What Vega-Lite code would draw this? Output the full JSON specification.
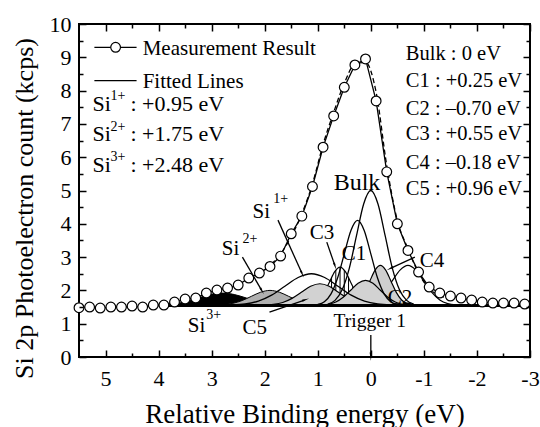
{
"$schema": "https://vega.github.io/schema/vega-lite/v6.json",
"width": 451, "height": 333,
"autosize": {"type": "none"},
"padding": {"left": 79, "top": 24, "right": 10, "bottom": 70},
"background": "white",
"config": {"view": {"stroke": "black", "strokeWidth": 2}, "text": {"font": "Liberation Serif", "color": "black"}},
"resolve": {"axis": {"x": "independent", "y": "independent"}},
"datasets": {
"meas": [
{"x":5.5,"y":1.48},{"x":5.3,"y":1.5},{"x":5.1,"y":1.47},{"x":4.9,"y":1.5},{"x":4.7,"y":1.5},{"x":4.5,"y":1.53},{"x":4.3,"y":1.5},{"x":4.1,"y":1.56},{"x":3.9,"y":1.56},{"x":3.7,"y":1.65},{"x":3.5,"y":1.74},{"x":3.3,"y":1.77},{"x":3.1,"y":1.92},{"x":2.9,"y":2.01},{"x":2.7,"y":2.07},{"x":2.5,"y":2.16},{"x":2.3,"y":2.37},{"x":2.1,"y":2.52},{"x":1.9,"y":2.72},{"x":1.7,"y":3.03},{"x":1.5,"y":3.7},{"x":1.3,"y":4.23},{"x":1.1,"y":5.12},{"x":0.9,"y":6.3},{"x":0.7,"y":7.24},{"x":0.5,"y":8.1},{"x":0.3,"y":8.77},{"x":0.1,"y":8.95},{"x":-0.1,"y":7.69},{"x":-0.3,"y":5.56},{"x":-0.5,"y":4.0},{"x":-0.7,"y":3.2},{"x":-0.9,"y":2.55},{"x":-1.1,"y":2.1},{"x":-1.3,"y":1.92},{"x":-1.5,"y":1.83},{"x":-1.7,"y":1.77},{"x":-1.9,"y":1.71},{"x":-2.1,"y":1.65},{"x":-2.3,"y":1.62},{"x":-2.5,"y":1.62},{"x":-2.7,"y":1.62},{"x":-2.9,"y":1.59}
],
"fit": [
{"x":2.1,"y":2.47},{"x":1.9,"y":2.75},{"x":1.7,"y":3.1},{"x":1.5,"y":3.62},{"x":1.3,"y":4.3},{"x":1.1,"y":5.2},{"x":0.9,"y":6.38},{"x":0.7,"y":7.35},{"x":0.5,"y":8.22},{"x":0.3,"y":8.8},{"x":0.1,"y":8.85},{"x":-0.1,"y":7.95},{"x":-0.3,"y":5.75},{"x":-0.5,"y":4.1},{"x":-0.7,"y":3.25},{"x":-0.9,"y":2.52},{"x":-1.1,"y":2.05},{"x":-1.3,"y":1.85},{"x":-1.5,"y":1.75}
],
"peaks": [
{"p":"Bulk","x":0.81,"y":1.588},{"p":"Bulk","x":0.675,"y":1.701},{"p":"Bulk","x":0.54,"y":2.017},{"p":"Bulk","x":0.405,"y":2.67},{"p":"Bulk","x":0.27,"y":3.642},{"p":"Bulk","x":0.135,"y":4.595},{"p":"Bulk","x":0,"y":5.0},{"p":"Bulk","x":-0.135,"y":4.595},{"p":"Bulk","x":-0.27,"y":3.642},{"p":"Bulk","x":-0.405,"y":2.67},{"p":"Bulk","x":-0.54,"y":2.017},{"p":"Bulk","x":-0.675,"y":1.701},{"p":"Bulk","x":-0.81,"y":1.588},
{"p":"C1","x":1.0,"y":1.578},{"p":"C1","x":0.875,"y":1.662},{"p":"C1","x":0.75,"y":1.895},{"p":"C1","x":0.625,"y":2.378},{"p":"C1","x":0.5,"y":3.097},{"p":"C1","x":0.375,"y":3.8},{"p":"C1","x":0.25,"y":4.1},{"p":"C1","x":0.125,"y":3.8},{"p":"C1","x":0.0,"y":3.097},{"p":"C1","x":-0.125,"y":2.378},{"p":"C1","x":-0.25,"y":1.895},{"p":"C1","x":-0.375,"y":1.662},{"p":"C1","x":-0.5,"y":1.578},
{"p":"C3","x":1.18,"y":1.563},{"p":"C3","x":1.08,"y":1.6},{"p":"C3","x":0.98,"y":1.706},{"p":"C3","x":0.88,"y":1.923},{"p":"C3","x":0.78,"y":2.247},{"p":"C3","x":0.68,"y":2.565},{"p":"C3","x":0.58,"y":2.7},{"p":"C3","x":0.48,"y":2.565},{"p":"C3","x":0.38,"y":2.247},{"p":"C3","x":0.28,"y":1.923},{"p":"C3","x":0.18,"y":1.706},{"p":"C3","x":0.08,"y":1.6},{"p":"C3","x":-0.02,"y":1.563},
{"p":"C4","x":0.42,"y":1.563},{"p":"C4","x":0.32,"y":1.603},{"p":"C4","x":0.22,"y":1.712},{"p":"C4","x":0.12,"y":1.94},{"p":"C4","x":0.02,"y":2.278},{"p":"C4","x":-0.08,"y":2.609},{"p":"C4","x":-0.18,"y":2.75},{"p":"C4","x":-0.28,"y":2.609},{"p":"C4","x":-0.38,"y":2.278},{"p":"C4","x":-0.48,"y":1.94},{"p":"C4","x":-0.58,"y":1.712},{"p":"C4","x":-0.68,"y":1.603},{"p":"C4","x":-0.78,"y":1.563},
{"p":"C2","x":0.2,"y":1.563},{"p":"C2","x":0.05,"y":1.603},{"p":"C2","x":-0.1,"y":1.712},{"p":"C2","x":-0.25,"y":1.94},{"p":"C2","x":-0.4,"y":2.278},{"p":"C2","x":-0.55,"y":2.609},{"p":"C2","x":-0.7,"y":2.75},{"p":"C2","x":-0.85,"y":2.609},{"p":"C2","x":-1.0,"y":2.278},{"p":"C2","x":-1.15,"y":1.94},{"p":"C2","x":-1.3,"y":1.712},{"p":"C2","x":-1.45,"y":1.603},{"p":"C2","x":-1.6,"y":1.563},
{"p":"C5","x":2.01,"y":1.557},{"p":"C5","x":1.835,"y":1.579},{"p":"C5","x":1.66,"y":1.638},{"p":"C5","x":1.485,"y":1.761},{"p":"C5","x":1.31,"y":1.944},{"p":"C5","x":1.135,"y":2.124},{"p":"C5","x":0.96,"y":2.2},{"p":"C5","x":0.785,"y":2.124},{"p":"C5","x":0.61,"y":1.944},{"p":"C5","x":0.435,"y":1.761},{"p":"C5","x":0.26,"y":1.638},{"p":"C5","x":0.085,"y":1.579},{"p":"C5","x":-0.09,"y":1.557},
{"p":"D2","x":0.94,"y":1.558},{"p":"D2","x":0.8,"y":1.583},{"p":"D2","x":0.66,"y":1.651},{"p":"D2","x":0.52,"y":1.794},{"p":"D2","x":0.38,"y":2.005},{"p":"D2","x":0.24,"y":2.212},{"p":"D2","x":0.1,"y":2.3},{"p":"D2","x":-0.04,"y":2.212},{"p":"D2","x":-0.18,"y":2.005},{"p":"D2","x":-0.32,"y":1.794},{"p":"D2","x":-0.46,"y":1.651},{"p":"D2","x":-0.6,"y":1.583},{"p":"D2","x":-0.74,"y":1.558},
{"p":"Si1","x":2.62,"y":1.561},{"p":"Si1","x":2.37,"y":1.592},{"p":"Si1","x":2.12,"y":1.679},{"p":"Si1","x":1.87,"y":1.858},{"p":"Si1","x":1.62,"y":2.126},{"p":"Si1","x":1.37,"y":2.388},{"p":"Si1","x":1.12,"y":2.5},{"p":"Si1","x":0.87,"y":2.388},{"p":"Si1","x":0.62,"y":2.126},{"p":"Si1","x":0.37,"y":1.858},{"p":"Si1","x":0.12,"y":1.679},{"p":"Si1","x":-0.13,"y":1.592},{"p":"Si1","x":-0.38,"y":1.561},
{"p":"Si2","x":2.95,"y":1.555},{"p":"Si2","x":2.775,"y":1.57},{"p":"Si2","x":2.6,"y":1.611},{"p":"Si2","x":2.425,"y":1.696},{"p":"Si2","x":2.25,"y":1.823},{"p":"Si2","x":2.075,"y":1.947},{"p":"Si2","x":1.9,"y":2.0},{"p":"Si2","x":1.725,"y":1.947},{"p":"Si2","x":1.55,"y":1.823},{"p":"Si2","x":1.375,"y":1.696},{"p":"Si2","x":1.2,"y":1.611},{"p":"Si2","x":1.025,"y":1.57},{"p":"Si2","x":0.85,"y":1.555},
{"p":"Si3","x":4.15,"y":1.554},{"p":"Si3","x":3.925,"y":1.566},{"p":"Si3","x":3.7,"y":1.6},{"p":"Si3","x":3.475,"y":1.67},{"p":"Si3","x":3.25,"y":1.774},{"p":"Si3","x":3.025,"y":1.877},{"p":"Si3","x":2.8,"y":1.92},{"p":"Si3","x":2.575,"y":1.877},{"p":"Si3","x":2.35,"y":1.774},{"p":"Si3","x":2.125,"y":1.67},{"p":"Si3","x":1.9,"y":1.6},{"p":"Si3","x":1.675,"y":1.566},{"p":"Si3","x":1.45,"y":1.554}
],
"hatch": [
{"x":0.98,"y":1.706,"b":1.55},{"x":0.9,"y":1.87,"b":1.55},{"x":0.82,"y":2.11,"b":1.55},{"x":0.74,"y":2.385,"b":1.55},{"x":0.66,"y":2.612,"b":1.55},{"x":0.58,"y":2.7,"b":1.55},{"x":0.5,"y":2.612,"b":1.55},{"x":0.42,"y":2.385,"b":1.55},{"x":0.34,"y":2.11,"b":1.55},{"x":0.26,"y":1.87,"b":1.55},{"x":0.18,"y":1.706,"b":1.55}
],
"base": [{"x":4.0,"x2":-3.0,"y":1.55}],
"legline": [{"x":5.21,"x2":4.415,"y":9.3},{"x":5.21,"x2":4.415,"y":8.3}],
"legpt": [{"x":4.81,"y":9.3}],
"arrows": [
{"a":"si1","x":1.75,"y":4.11,"x2":1.3,"y2":2.52},
{"a":"si2","x":2.42,"y":3.0,"x2":2.06,"y2":2.01},
{"a":"c3","x":0.83,"y":3.45,"x2":0.68,"y2":2.76},
{"a":"c4","x":-0.83,"y":3.0,"x2":-0.38,"y2":2.67},
{"a":"c5","x":1.91,"y":1.35,"x2":1.25,"y2":1.71},
{"a":"trig","x":0.0,"y":0.66,"x2":0.0,"y2":0.05}
],
"labels": [
{"g":"leg","x":4.3,"y":9.07,"t":"Measurement Result"},
{"g":"leg","x":4.3,"y":8.08,"t":"Fitted Lines"},
{"g":"sil","x":5.245,"y":7.39,"t":"Si"},
{"g":"sil","x":4.53,"y":7.39,"t":": +0.95 eV"},
{"g":"sil","x":5.245,"y":6.49,"t":"Si"},
{"g":"sil","x":4.53,"y":6.49,"t":": +1.75 eV"},
{"g":"sil","x":5.245,"y":5.56,"t":"Si"},
{"g":"sil","x":4.53,"y":5.56,"t":": +2.48 eV"},
{"g":"info","x":-0.66,"y":8.92,"t":"Bulk : 0 eV"},
{"g":"info","x":-0.66,"y":8.12,"t":"C1 : +0.25 eV"},
{"g":"info","x":-0.66,"y":7.27,"t":"C2 : –0.70 eV"},
{"g":"info","x":-0.66,"y":6.52,"t":"C3 : +0.55 eV"},
{"g":"info","x":-0.66,"y":5.65,"t":"C4 : –0.18 eV"},
{"g":"info","x":-0.66,"y":4.86,"t":"C5 : +0.96 eV"},
{"g":"sup","x":4.906,"y":7.72,"t":"1+"},
{"g":"sup","x":4.906,"y":6.79,"t":"2+"},
{"g":"sup","x":4.906,"y":5.89,"t":"3+"},
{"g":"sup","x":1.84,"y":4.62,"t":"1+"},
{"g":"sup","x":2.42,"y":3.42,"t":"2+"},
{"g":"sup","x":3.1,"y":1.14,"t":"3+"},
{"g":"peak","x":2.23,"y":4.17,"t":"Si"},
{"g":"peak","x":2.81,"y":3.06,"t":"Si"},
{"g":"peak","x":3.45,"y":0.75,"t":"Si"},
{"g":"peak","x":2.42,"y":0.69,"t":"C5"},
{"g":"peak","x":1.15,"y":3.54,"t":"C3"},
{"g":"peak","x":0.55,"y":2.91,"t":"C1"},
{"g":"peak","x":-0.92,"y":2.7,"t":"C4"},
{"g":"peak","x":-0.32,"y":1.58,"t":"C2"},
{"g":"peakc","x":0.26,"y":5.02,"t":"Bulk"},
{"g":"trig","x":0.02,"y":0.9,"t":"Trigger 1"}
]
},
"layer": [
{"data":{"name":"peaks"},"transform":[{"filter":"datum.p === 'Si3'"}],"mark":{"type":"area","interpolate":"monotone","fill":"black","stroke":"black","strokeWidth":1},
 "encoding":{"x":{"field":"x","type":"quantitative","scale":{"domain":[-3,5.5],"reverse":true,"nice":false,"zero":false},"axis":null},"y":{"field":"y","type":"quantitative","scale":{"domain":[0,10],"nice":false,"zero":false},"axis":null},"y2":{"datum":1.55}}},
{"data":{"name":"peaks"},"transform":[{"filter":"datum.p === 'Si2'"}],"mark":{"type":"area","interpolate":"monotone","fill":"#b0b0b0","stroke":"black","strokeWidth":1},
 "encoding":{"x":{"field":"x","type":"quantitative","axis":null},"y":{"field":"y","type":"quantitative","axis":null},"y2":{"datum":1.55}}},
{"data":{"name":"peaks"},"transform":[{"filter":"datum.p === 'C2'"}],"mark":{"type":"area","interpolate":"monotone","fill":"white","stroke":"black","strokeWidth":1.2},
 "encoding":{"x":{"field":"x","type":"quantitative","axis":null},"y":{"field":"y","type":"quantitative","axis":null},"y2":{"datum":1.55}}},
{"data":{"name":"peaks"},"transform":[{"filter":"datum.p === 'C4'"}],"mark":{"type":"area","interpolate":"monotone","fill":"#cfcfcf","stroke":"black","strokeWidth":1.2},
 "encoding":{"x":{"field":"x","type":"quantitative","axis":null},"y":{"field":"y","type":"quantitative","axis":null},"y2":{"datum":1.55}}},
{"data":{"name":"peaks"},"transform":[{"filter":"datum.p === 'C3'"}],"mark":{"type":"area","interpolate":"monotone","fill":"white","stroke":"black","strokeWidth":1.2},
 "encoding":{"x":{"field":"x","type":"quantitative","axis":null},"y":{"field":"y","type":"quantitative","axis":null},"y2":{"datum":1.55}}},
{"data":{"name":"hatch"},"mark":{"type":"rule","color":"black","strokeWidth":1},
 "encoding":{"x":{"field":"x","type":"quantitative","axis":null},"y":{"field":"y","type":"quantitative","axis":null},"y2":{"field":"b"}}},
{"data":{"name":"peaks"},"transform":[{"filter":"datum.p === 'C5'"}],"mark":{"type":"area","interpolate":"monotone","fill":"#d2d2d2","stroke":"black","strokeWidth":1.2},
 "encoding":{"x":{"field":"x","type":"quantitative","axis":null},"y":{"field":"y","type":"quantitative","axis":null},"y2":{"datum":1.55}}},
{"data":{"name":"peaks"},"transform":[{"filter":"datum.p === 'D2'"}],"mark":{"type":"area","interpolate":"monotone","fill":"#d2d2d2","stroke":"black","strokeWidth":1.2},
 "encoding":{"x":{"field":"x","type":"quantitative","axis":null},"y":{"field":"y","type":"quantitative","axis":null},"y2":{"datum":1.55}}},
{"data":{"name":"peaks"},"transform":[{"filter":"datum.p === 'Si1' || datum.p === 'C1' || datum.p === 'Bulk'"}],"mark":{"type":"line","interpolate":"monotone","color":"black","strokeWidth":1.3},
 "encoding":{"x":{"field":"x","type":"quantitative","axis":null},"y":{"field":"y","type":"quantitative","axis":null},"detail":{"field":"p"}}},
{"data":{"name":"base"},"mark":{"type":"rule","color":"black","strokeWidth":3},
 "encoding":{"x":{"field":"x","type":"quantitative","axis":null},"x2":{"field":"x2"},"y":{"field":"y","type":"quantitative","axis":null}}},
{"data":{"name":"fit"},"mark":{"type":"line","interpolate":"monotone","color":"black","strokeWidth":1.3,"strokeDash":[5,3]},
 "encoding":{
  "x":{"field":"x","type":"quantitative","axis":{"orient":"bottom","values":[-2.5,-1.5,-0.5,0.5,1.5,2.5,3.5,4.5],"labels":false,"tickSize":-4,"tickColor":"black","tickWidth":1.5,"domain":false,"grid":false,"title":null,"zindex":1}},
  "y":{"field":"y","type":"quantitative","axis":{"orient":"left","values":[0.5,1.5,2.5,3.5,4.5,5.5,6.5,7.5,8.5,9.5],"labels":false,"tickSize":-4,"tickColor":"black","tickWidth":1.5,"domain":false,"grid":false,"title":null,"zindex":1}}}},
{"data":{"name":"meas"},"mark":{"type":"line","color":"black","strokeWidth":1.3},
 "encoding":{
  "x":{"field":"x","type":"quantitative","axis":{"orient":"bottom","values":[-3,-2,-1,0,1,2,3,4,5],"labelExpr":"toString(datum.value)","tickSize":-7,"tickColor":"black","tickWidth":1.5,"domain":false,"grid":false,"labelFont":"Liberation Serif","labelFontSize":22,"labelColor":"black","labelPadding":18,"labelFlush":false,"labelOverlap":false,"labelBound":false,"title":"Relative Binding energy (eV)","titleFont":"Liberation Serif","titleFontSize":27,"titleFontWeight":"normal","titleColor":"black","titlePadding":12,"zindex":1}},
  "y":{"field":"y","type":"quantitative","axis":{"orient":"left","values":[0,1,2,3,4,5,6,7,8,9,10],"labelExpr":"toString(datum.value)","tickSize":-7,"tickColor":"black","tickWidth":1.5,"domain":false,"grid":false,"labelFont":"Liberation Serif","labelFontSize":22,"labelColor":"black","labelPadding":15,"labelFlush":false,"labelOverlap":false,"labelBound":false,"title":"Si 2p Photoelectron count (kcps)","titleFont":"Liberation Serif","titleFontSize":26,"titleFontWeight":"normal","titleColor":"black","titleX":-55,"titleY":184,"titleBaseline":"middle","zindex":1}}}},
{"data":{"name":"meas"},"mark":{"type":"point","shape":"circle","filled":true,"fill":"white","stroke":"black","strokeWidth":1.2,"size":95,"opacity":1},
 "encoding":{
  "x":{"field":"x","type":"quantitative","axis":{"orient":"top","values":[-3,-2,-1,0,1,2,3,4,5],"labels":false,"tickSize":-7,"tickColor":"black","tickWidth":1.5,"domain":false,"grid":false,"title":null,"zindex":1}},
  "y":{"field":"y","type":"quantitative","axis":{"orient":"right","values":[0,1,2,3,4,5,6,7,8,9,10],"labels":false,"tickSize":-7,"tickColor":"black","tickWidth":1.5,"domain":false,"grid":false,"title":null,"zindex":1}}}},
{"data":{"name":"legline"},"mark":{"type":"rule","color":"black","strokeWidth":1.3},
 "encoding":{"x":{"field":"x","type":"quantitative","axis":null},"x2":{"field":"x2"},"y":{"field":"y","type":"quantitative","axis":null}}},
{"data":{"name":"legpt"},"mark":{"type":"point","shape":"circle","filled":true,"fill":"white","stroke":"black","strokeWidth":1.2,"size":95,"opacity":1},
 "encoding":{
  "x":{"field":"x","type":"quantitative","axis":{"orient":"top","values":[-2.5,-1.5,-0.5,0.5,1.5,2.5,3.5,4.5],"labels":false,"tickSize":-4,"tickColor":"black","tickWidth":1.5,"domain":false,"grid":false,"title":null,"zindex":1}},
  "y":{"field":"y","type":"quantitative","axis":{"orient":"right","values":[0.5,1.5,2.5,3.5,4.5,5.5,6.5,7.5,8.5,9.5],"labels":false,"tickSize":-4,"tickColor":"black","tickWidth":1.5,"domain":false,"grid":false,"title":null,"zindex":1}}}},
{"data":{"name":"arrows"},"mark":{"type":"rule","color":"black","strokeWidth":1.3},
 "encoding":{"x":{"field":"x","type":"quantitative","axis":null},"x2":{"field":"x2"},"y":{"field":"y","type":"quantitative","axis":null},"y2":{"field":"y2"}}},
{"data":{"name":"arrows"},"transform":[{"filter":"datum.a === 'si1'"}],"mark":{"type":"point","shape":"wedge","filled":true,"color":"black","size":70,"angle":155,"opacity":1},
 "encoding":{"x":{"field":"x2","type":"quantitative","axis":null},"y":{"field":"y2","type":"quantitative","axis":null}}},
{"data":{"name":"arrows"},"transform":[{"filter":"datum.a === 'si2'"}],"mark":{"type":"point","shape":"wedge","filled":true,"color":"black","size":70,"angle":150,"opacity":1},
 "encoding":{"x":{"field":"x2","type":"quantitative","axis":null},"y":{"field":"y2","type":"quantitative","axis":null}}},
{"data":{"name":"arrows"},"transform":[{"filter":"datum.a === 'c3'"}],"mark":{"type":"point","shape":"wedge","filled":true,"color":"black","size":70,"angle":161,"opacity":1},
 "encoding":{"x":{"field":"x2","type":"quantitative","axis":null},"y":{"field":"y2","type":"quantitative","axis":null}}},
{"data":{"name":"arrows"},"transform":[{"filter":"datum.a === 'c4'"}],"mark":{"type":"point","shape":"wedge","filled":true,"color":"black","size":70,"angle":245,"opacity":1},
 "encoding":{"x":{"field":"x2","type":"quantitative","axis":null},"y":{"field":"y2","type":"quantitative","axis":null}}},
{"data":{"name":"arrows"},"transform":[{"filter":"datum.a === 'c5'"}],"mark":{"type":"point","shape":"wedge","filled":true,"color":"black","size":70,"angle":71,"opacity":1},
 "encoding":{"x":{"field":"x2","type":"quantitative","axis":null},"y":{"field":"y2","type":"quantitative","axis":null}}},
{"data":{"name":"arrows"},"transform":[{"filter":"datum.a === 'trig'"}],"mark":{"type":"point","shape":"wedge","filled":true,"color":"black","size":90,"angle":180,"opacity":1},
 "encoding":{"x":{"field":"x2","type":"quantitative","axis":null},"y":{"field":"y2","type":"quantitative","axis":null}}},
{"data":{"name":"labels"},"transform":[{"filter":"datum.g === 'leg'"}],"mark":{"type":"text","align":"left","baseline":"alphabetic","fontSize":21,"font":"Liberation Serif"},
 "encoding":{"x":{"field":"x","type":"quantitative","axis":null},"y":{"field":"y","type":"quantitative","axis":null},"text":{"field":"t"}}},
{"data":{"name":"labels"},"transform":[{"filter":"datum.g === 'info'"}],"mark":{"type":"text","align":"left","baseline":"alphabetic","fontSize":20.5,"font":"Liberation Serif"},
 "encoding":{"x":{"field":"x","type":"quantitative","axis":null},"y":{"field":"y","type":"quantitative","axis":null},"text":{"field":"t"}}},
{"data":{"name":"labels"},"transform":[{"filter":"datum.g === 'sil'"}],"mark":{"type":"text","align":"left","baseline":"alphabetic","fontSize":22,"font":"Liberation Serif"},
 "encoding":{"x":{"field":"x","type":"quantitative","axis":null},"y":{"field":"y","type":"quantitative","axis":null},"text":{"field":"t"}}},
{"data":{"name":"labels"},"transform":[{"filter":"datum.g === 'sup'"}],"mark":{"type":"text","align":"left","baseline":"alphabetic","fontSize":14,"font":"Liberation Serif"},
 "encoding":{"x":{"field":"x","type":"quantitative","axis":null},"y":{"field":"y","type":"quantitative","axis":null},"text":{"field":"t"}}},
{"data":{"name":"labels"},"transform":[{"filter":"datum.g === 'peak'"}],"mark":{"type":"text","align":"left","baseline":"alphabetic","fontSize":21,"font":"Liberation Serif"},
 "encoding":{"x":{"field":"x","type":"quantitative","axis":null},"y":{"field":"y","type":"quantitative","axis":null},"text":{"field":"t"}}},
{"data":{"name":"labels"},"transform":[{"filter":"datum.g === 'peakc'"}],"mark":{"type":"text","align":"center","baseline":"alphabetic","fontSize":24,"font":"Liberation Serif"},
 "encoding":{"x":{"field":"x","type":"quantitative","axis":null},"y":{"field":"y","type":"quantitative","axis":null},"text":{"field":"t"}}},
{"data":{"name":"labels"},"transform":[{"filter":"datum.g === 'trig'"}],"mark":{"type":"text","align":"center","baseline":"alphabetic","fontSize":19.5,"font":"Liberation Serif"},
 "encoding":{"x":{"field":"x","type":"quantitative","axis":null},"y":{"field":"y","type":"quantitative","axis":null},"text":{"field":"t"}}}
]
}
